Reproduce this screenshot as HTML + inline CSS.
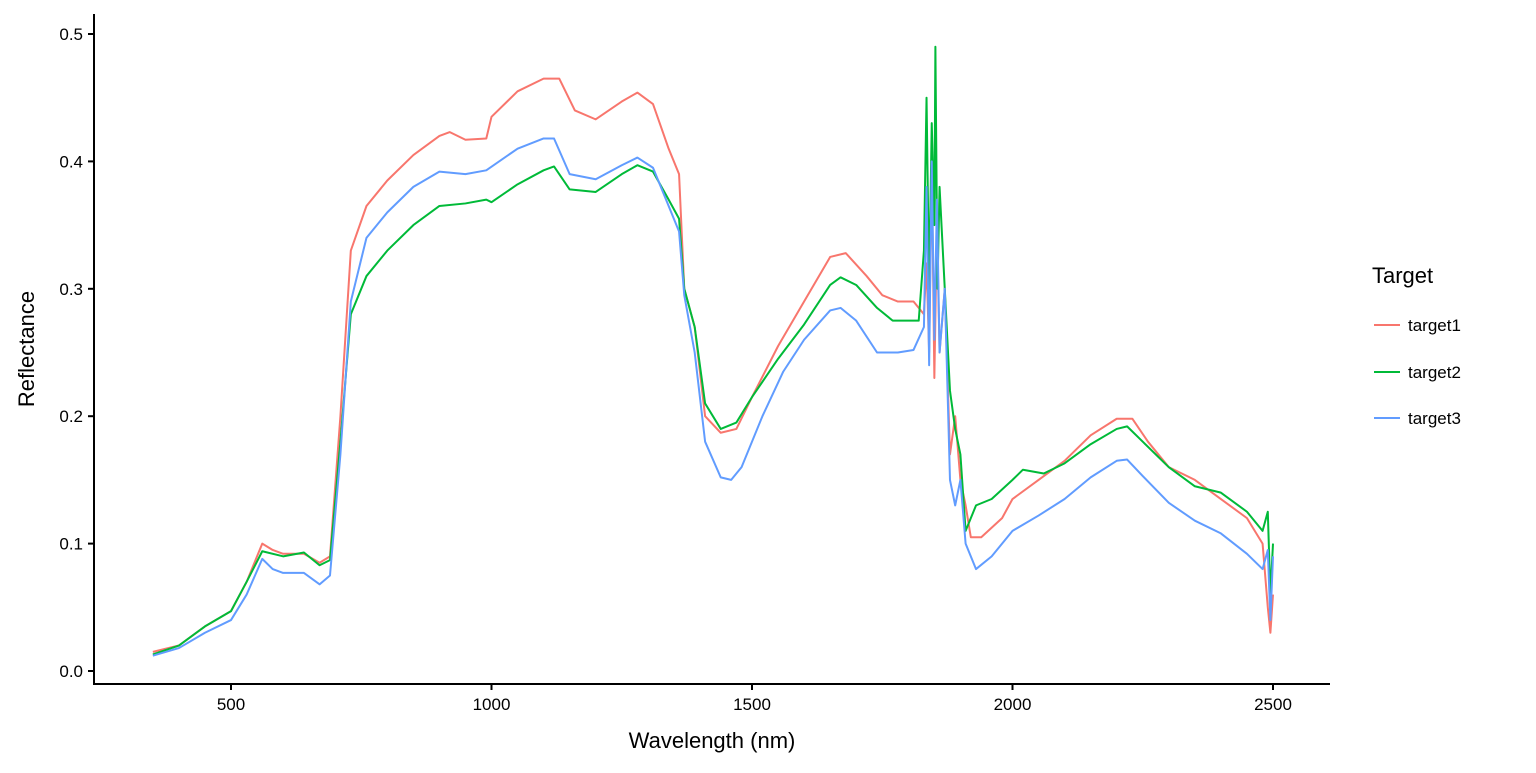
<!DOCTYPE html>
<html><head><meta charset="utf-8"><style>
html,body{margin:0;padding:0;background:#fff}
text{font-family:"Liberation Sans",Arial,sans-serif}
</style></head><body>
<svg width="1536" height="768" viewBox="0 0 1536 768" xmlns="http://www.w3.org/2000/svg">
<g fill="none" stroke-width="2" stroke-linejoin="round" transform="matrix(0.521 0 0 -1274 -29.5 671)">
<polyline vector-effect="non-scaling-stroke" stroke="#F8766D" points="350,.015 400,.02 450,.035 500,.047 530,.07 560,.1 580,.095 600,.092 640,.092 670,.085 690,.09 710,.2 730,.33 760,.365 800,.385 850,.405 900,.42 920,.423 950,.417 990,.418 1000,.435 1050,.455 1100,.465 1130,.465 1160,.44 1200,.433 1250,.447 1280,.454 1310,.445 1340,.41 1360,.39 1370,.3 1390,.27 1410,.2 1440,.187 1470,.19 1500,.215 1550,.255 1600,.29 1650,.325 1680,.328 1720,.31 1750,.295 1780,.29 1810,.29 1830,.28 1835,.32 1840,.25 1845,.4 1850,.23 1855,.35 1860,.25 1870,.3 1880,.17 1890,.2 1900,.15 1910,.13 1920,.105 1940,.105 1980,.12 2000,.135 2050,.15 2100,.165 2150,.185 2200,.198 2230,.198 2260,.18 2300,.16 2350,.15 2400,.135 2450,.12 2480,.1 2490,.05 2495,.03 2500,.06"/>
<polyline vector-effect="non-scaling-stroke" stroke="#00BA38" points="350,.013 400,.02 450,.035 500,.047 530,.07 560,.094 600,.09 640,.093 670,.083 690,.087 710,.18 730,.28 760,.31 800,.33 850,.35 900,.365 950,.367 990,.37 1000,.368 1050,.382 1100,.393 1120,.396 1150,.378 1200,.376 1250,.39 1280,.397 1310,.392 1340,.37 1360,.355 1370,.3 1390,.27 1410,.21 1440,.19 1470,.195 1500,.215 1550,.245 1600,.272 1650,.303 1670,.309 1700,.303 1740,.285 1770,.275 1820,.275 1830,.33 1835,.45 1840,.3 1845,.43 1850,.35 1852,.49 1856,.3 1860,.38 1870,.3 1880,.22 1890,.19 1900,.17 1910,.11 1930,.13 1960,.135 2000,.15 2020,.158 2060,.155 2100,.163 2150,.178 2200,.19 2220,.192 2250,.18 2300,.16 2350,.145 2400,.14 2450,.125 2480,.11 2490,.125 2495,.06 2500,.1"/>
<polyline vector-effect="non-scaling-stroke" stroke="#619CFF" points="350,.012 400,.018 450,.03 500,.04 530,.06 560,.088 580,.08 600,.077 640,.077 670,.068 690,.075 710,.17 730,.29 760,.34 800,.36 850,.38 900,.392 950,.39 990,.393 1050,.41 1100,.418 1120,.418 1150,.39 1200,.386 1250,.397 1280,.403 1310,.395 1340,.365 1360,.345 1370,.295 1390,.25 1410,.18 1440,.152 1460,.15 1480,.16 1520,.2 1560,.235 1600,.26 1650,.283 1670,.285 1700,.275 1740,.25 1780,.25 1810,.252 1830,.27 1835,.38 1840,.24 1845,.4 1850,.26 1855,.37 1860,.25 1870,.3 1880,.15 1890,.13 1900,.15 1910,.1 1930,.08 1960,.09 2000,.11 2050,.122 2100,.135 2150,.152 2200,.165 2220,.166 2250,.153 2300,.132 2350,.118 2400,.108 2450,.092 2480,.08 2490,.095 2495,.04 2500,.09"/>
</g>
<g stroke="#000" stroke-width="2">
<line x1="94" y1="14" x2="94" y2="685"/>
<line x1="93" y1="684" x2="1330" y2="684"/>
<line x1="88" y1="671" x2="94" y2="671"/>
<line x1="88" y1="543.6" x2="94" y2="543.6"/>
<line x1="88" y1="416.2" x2="94" y2="416.2"/>
<line x1="88" y1="288.8" x2="94" y2="288.8"/>
<line x1="88" y1="161.4" x2="94" y2="161.4"/>
<line x1="88" y1="34" x2="94" y2="34"/>
<line x1="231" y1="684" x2="231" y2="690"/>
<line x1="491.5" y1="684" x2="491.5" y2="690"/>
<line x1="752" y1="684" x2="752" y2="690"/>
<line x1="1012.5" y1="684" x2="1012.5" y2="690"/>
<line x1="1273" y1="684" x2="1273" y2="690"/>
</g>
<g font-size="17" fill="#000" text-anchor="end">
<text x="83" y="677">0.0</text>
<text x="83" y="549.6">0.1</text>
<text x="83" y="422.2">0.2</text>
<text x="83" y="294.8">0.3</text>
<text x="83" y="167.4">0.4</text>
<text x="83" y="40">0.5</text>
</g>
<g font-size="17" fill="#000" text-anchor="middle">
<text x="231" y="710">500</text>
<text x="491.5" y="710">1000</text>
<text x="752" y="710">1500</text>
<text x="1012.5" y="710">2000</text>
<text x="1273" y="710">2500</text>
</g>
<text x="712" y="748" font-size="22" text-anchor="middle">Wavelength (nm)</text>
<text transform="translate(34,349) rotate(-90)" font-size="22" text-anchor="middle">Reflectance</text>
<text x="1372" y="283" font-size="22">Target</text>
<g stroke-width="2">
<line x1="1374" y1="325" x2="1400" y2="325" stroke="#F8766D"/>
<line x1="1374" y1="372" x2="1400" y2="372" stroke="#00BA38"/>
<line x1="1374" y1="418" x2="1400" y2="418" stroke="#619CFF"/>
</g>
<g font-size="17">
<text x="1408" y="331">target1</text>
<text x="1408" y="378">target2</text>
<text x="1408" y="424">target3</text>
</g>
</svg>
</body></html>
